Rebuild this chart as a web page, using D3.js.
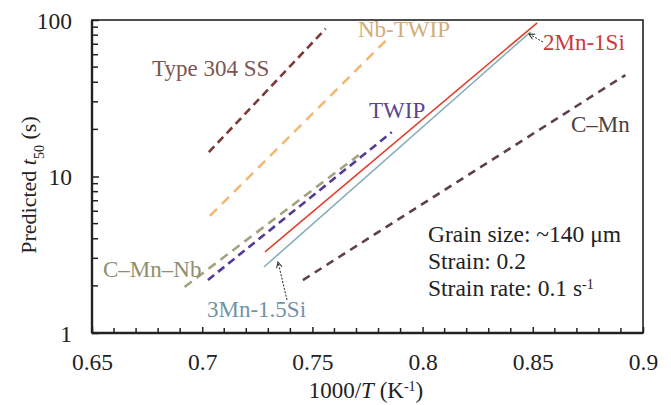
<!DOCTYPE html>
<html><head><meta charset="utf-8">
<script src="https://cdn.jsdelivr.net/npm/d3@7"></script>
<style>
body{margin:0;background:#fff;}
svg{display:block;}
svg text{font-family:"Liberation Serif","Times New Roman",serif;}
</style></head>
<body><svg id="c" width="671" height="405"></svg>
<script>
// ---- data ----
const seriesNames = ["Type 304 SS","Nb-TWIP","C\u2013Mn\u2013Nb","TWIP","2Mn-1Si","3Mn-1.5Si","C\u2013Mn"];
const xStart = [0.703, 0.7035, 0.692, 0.7026, 0.7285, 0.728, 0.7457];
const xEnd   = [0.756, 0.785, 0.771, 0.786, 0.852, 0.849, 0.892];
const yStart = [14.3, 5.6, 1.97, 2.18, 3.3, 2.64, 2.18];
const yEnd   = [88, 78, 13.7, 19.2, 96, 84, 44.5];
const xTicks = [0.65, 0.7, 0.75, 0.8, 0.85, 0.9];
const xTickLabels = ["0.65","0.7","0.75","0.8","0.85","0.9"];
const yTicks = [1, 10, 100];
const yTickLabels = ["1","10","100"];
const notes = ["Grain size: ~140 \u03bcm","Strain: 0.2","Strain rate: 0.1 s"];

// ---- styles ----
const colors = ["#7b3a36","#f2b872","#a3a383","#54399a","#e0402e","#86aebb","#5e3f4c"];
const dashes = ["8,5","10,7","9,6","8,5",null,null,"8,6"];
const widths = [2.6,2.6,2.6,2.6,1.6,1.6,2.6];

const svg = d3.select("#c");
const L=92, R=643, T=20, B=333;
const x = d3.scaleLinear().domain([0.65,0.9]).range([L,R]);
const y = d3.scaleLog().domain([1,100]).range([B,T]);

// minor ticks
const xMinor = d3.range(66,90).map(v=>v/100).filter(v=>Math.abs(v*20-Math.round(v*20))>1e-6);
svg.append("g").selectAll("line").data(xMinor).join("line")
  .attr("x1",d=>x(d)).attr("x2",d=>x(d)).attr("y1",B).attr("y2",B-5)
  .attr("stroke","#222").attr("stroke-width",1.5);
const yMinor = [];
[1,10].forEach(dec=>{for(let k=2;k<=9;k++) yMinor.push(dec*k);});
svg.append("g").selectAll("line").data(yMinor).join("line")
  .attr("x1",L).attr("x2",L+6).attr("y1",d=>y(d)).attr("y2",d=>y(d))
  .attr("stroke","#222").attr("stroke-width",1.5);

// axes
const xAxis = d3.axisBottom(x).tickValues(xTicks).tickFormat((d,i)=>xTickLabels[i]).tickSizeInner(-6).tickSizeOuter(0).tickPadding(20);
const gx = svg.append("g").attr("transform",`translate(0,${B})`).call(xAxis);
const yAxis = d3.axisLeft(y).tickValues(yTicks).tickFormat((d,i)=>yTickLabels[i]).tickSizeInner(-7).tickSizeOuter(0).tickPadding(20);
const gy = svg.append("g").attr("transform",`translate(${L},0)`).call(yAxis);
[gx,gy].forEach(g=>{
  g.attr("font-family",null).attr("font-size",null);
  g.select(".domain").remove();
  g.selectAll(".tick line").attr("stroke","#222").attr("stroke-width",1.5);
  g.selectAll(".tick text").style("font-size","23.5px").attr("fill","#222");
});
gy.selectAll(".tick text").attr("dy","0.36em");

// frame
svg.append("rect").attr("x",L).attr("y",T).attr("width",R-L).attr("height",B-T)
  .attr("fill","none").attr("stroke","#222").attr("stroke-width",1.6);
svg.append("line").attr("x1",L).attr("x2",L).attr("y1",T).attr("y2",B).attr("stroke","#222").attr("stroke-width",2.4);
svg.append("line").attr("x1",L).attr("x2",R).attr("y1",B).attr("y2",B).attr("stroke","#222").attr("stroke-width",2.4);

// lines
const line = d3.line().x(d=>x(d[0])).y(d=>y(d[1]));
seriesNames.forEach((n,i)=>{
  svg.append("path").datum([[xStart[i],yStart[i]],[xEnd[i],yEnd[i]]])
    .attr("d",line).attr("fill","none").attr("stroke",colors[i])
    .attr("stroke-width",widths[i]).attr("stroke-dasharray",dashes[i]);
});

// labels
const labelPos = [[152,76],[358,37],[103,277],[369,118],[543,50],[207,317],[571,132]];
const labelColors = ["#7d5650","#d2ad78","#8f8f70","#5b4590","#d2363a","#6f93a8","#4e3e3e"];
seriesNames.forEach((n,i)=>{
  svg.append("text").attr("x",labelPos[i][0]).attr("y",labelPos[i][1])
    .style("font-size","23px").attr("fill",labelColors[i]).text(n);
});

// arrows
const defs = svg.append("defs");
defs.append("marker").attr("id","ah").attr("viewBox","0 0 10 10").attr("refX",9).attr("refY",5)
  .attr("markerWidth",7).attr("markerHeight",7).attr("orient","auto")
  .append("path").attr("d","M1,1 L9,5 L1,9").attr("fill","none").attr("stroke","#222").attr("stroke-width",1.4);
svg.append("line").attr("x1",543).attr("y1",42).attr("x2",529).attr("y2",34)
  .attr("stroke","#222").attr("stroke-width",1).attr("stroke-dasharray","2,1.5").attr("marker-end","url(#ah)");
svg.append("line").attr("x1",287).attr("y1",300).attr("x2",278).attr("y2",262)
  .attr("stroke","#222").attr("stroke-width",1).attr("stroke-dasharray","2,1.5").attr("marker-end","url(#ah)");

// notes
const nt = svg.append("g").attr("fill","#222");
notes.forEach((t,i)=>{
  const tx = nt.append("text").attr("x",428).attr("y",242+i*27).style("font-size","23.5px").text(t);
  if(i===2) tx.append("tspan").attr("baseline-shift","super").style("font-size","14px").text("-1");
});

// axis titles
const xt = svg.append("text").attr("x",366).attr("y",398).attr("text-anchor","middle").style("font-size","23px").attr("fill","#222");
xt.append("tspan").text("1000/");
xt.append("tspan").attr("font-style","italic").text("T");
xt.append("tspan").text(" (K");
xt.append("tspan").attr("baseline-shift","super").style("font-size","14px").text("-1");
xt.append("tspan").text(")");

const yt = svg.append("text").attr("transform","translate(36,185) rotate(-90)").attr("text-anchor","middle").style("font-size","22px").attr("fill","#222");
yt.append("tspan").text("Predicted ");
yt.append("tspan").attr("font-style","italic").text("t");
yt.append("tspan").attr("baseline-shift","sub").style("font-size","14px").text("50");
yt.append("tspan").text(" (s)");
</script></body></html>
